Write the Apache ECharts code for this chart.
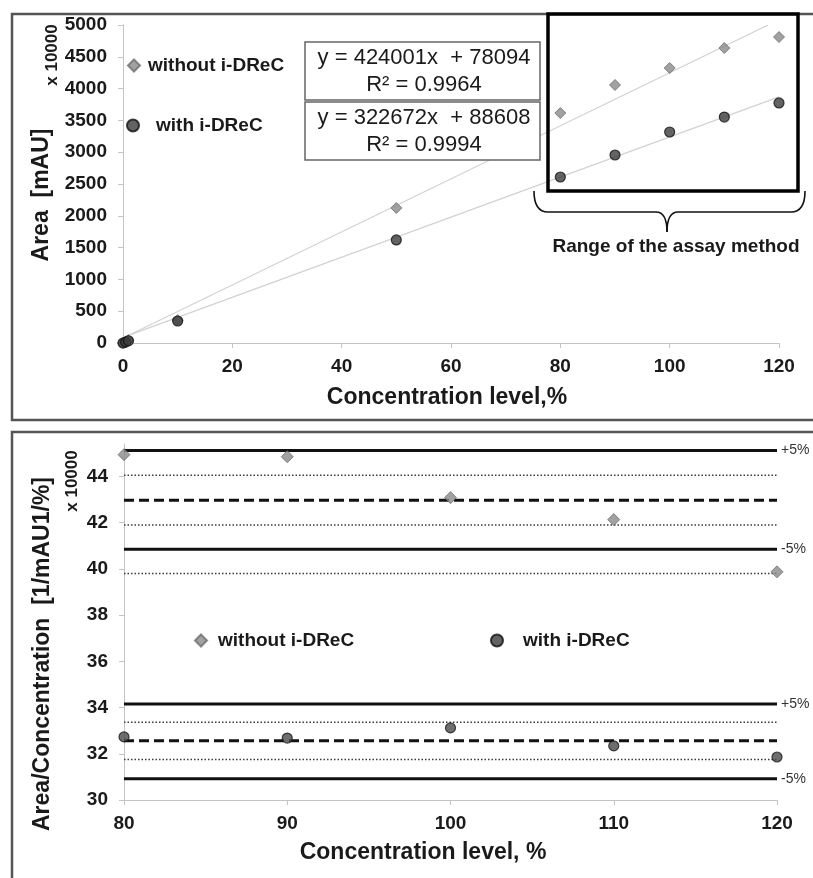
<!DOCTYPE html>
<html>
<head>
<meta charset="utf-8">
<script src="https://cdn.jsdelivr.net/npm/echarts@6/dist/echarts.min.js"></script>
<style>html,body{margin:0;padding:0;background:#fff}#box{width:813px;height:878px}</style>
</head>
<body>
<div id="box"></div>
<script>
const FONT = '"Liberation Sans", Arial, sans-serif';

// top chart: area (x10000 mAU) vs concentration level (%)
const concTop = [0, 0.5, 1, 10, 50, 80, 90, 100, 110, 120];
const areaWithout = [0, 20, 45, 360, 2123, 3616, 4057, 4324, 4638, 4811];
const areaWith = [0, 15, 35, 346, 1620, 2610, 2956, 3318, 3553, 3774];
const trendWithout = [[0, 78], [118, 5000]];
const trendWith = [[0, 89], [120, 3870]];
const eqWithout = ['y = 424001x  + 78094', 'R² = 0.9964'];
const eqWith = ['y = 322672x  + 88608', 'R² = 0.9994'];

// bottom chart: area/concentration (x10000) inside the assay range
const concBottom = [80, 90, 100, 110, 120];
const ratioWithout = [44.94, 44.85, 43.08, 42.13, 39.87];
const ratioWith = [32.73, 32.68, 33.12, 32.34, 31.86];
const solidLevels = [45.12, 40.85, 34.15, 30.92];
const solidLabels = ['+5%', '-5%', '+5%', '-5%'];
const dashedLevels = [42.97, 32.56];
const dottedLevels = [44.05, 41.9, 39.8, 33.36, 31.75];

const sWithout = 'without i-DReC';
const sWith = 'with i-DReC';

const diamondStyle = { color: '#898989', borderColor: '#6e6e6e', borderWidth: 1 };
const circleStyle = { color: '#3c3c3c', borderColor: '#111', borderWidth: 1.2 };

function pairs(xs, ys){
    return xs.map((x, i) => [x, ys[i]]);
}

function levelLine(v, type, idx){
    const o = {
        type: 'line', xAxisIndex: 1, yAxisIndex: 1,
        data: [[80, v], [120, v]],
        symbol: 'none', silent: true, z: 1,
        lineStyle: { color: '#111', width: 3, type: 'solid' },
    };
    if (type === 'dashed') o.lineStyle = { color: '#111', width: 3, type: [10, 5] };
    if (type === 'dotted') o.lineStyle = { color: '#3a3a3a', width: 1.5, type: [1.5, 2] };
    if (type === 'solid') {
        o.endLabel = {
            show: true, formatter: solidLabels[idx], distance: 4,
            fontFamily: FONT, fontSize: 14, color: '#333',
        };
    }
    return o;
}

// curly brace under the assay range box
const braceStroke = { stroke: '#111', lineWidth: 1.6, fill: 'none' };
function curve(x1, y1, cx, cy, x2, y2){
    return { type: 'bezierCurve', z: 10, shape: { x1, y1, x2, y2, cpx1: cx, cpy1: cy }, style: braceStroke };
}
function seg(x1, y1, x2, y2){
    return { type: 'line', z: 10, shape: { x1, y1, x2, y2 }, style: braceStroke };
}

// one-item legend
const legendText = { fontFamily: FONT, fontSize: 19, fontWeight: 'bold', color: '#1a1a1a' };
function legendItem(name, icon, left, top, pad){
    return {
        data: [{ name, icon }], left, top,
        itemWidth: 12, itemHeight: 12, selectedMode: false,
        textStyle: { ...legendText, padding: [0, 0, 0, pad] },
    };
}

const axisLabelStyle = { fontFamily: FONT, fontSize: 19, fontWeight: 'bold', color: '#1a1a1a', formatter: v => String(v) };
const axisLineStyle = { show: true, lineStyle: { color: '#c4c4c4', width: 1 } };
const axisTickStyle = { show: true, length: 5, lineStyle: { color: '#c4c4c4' } };

const myChart = echarts.init(document.getElementById('box'));
const option = {
    animation: false,
    backgroundColor: '#fff',
    grid: [
        { left: 123, right: 34, top: 25, bottom: 535 },
        { left: 124, right: 36, top: 444, bottom: 78 },
    ],
    xAxis: [
        {
            gridIndex: 0, type: 'value', min: 0, max: 120, interval: 20,
            axisLine: axisLineStyle, axisTick: axisTickStyle, splitLine: { show: false },
            axisLabel: { ...axisLabelStyle, margin: 14 },
        },
        {
            gridIndex: 1, type: 'value', min: 80, max: 120, interval: 10,
            axisLine: axisLineStyle, axisTick: axisTickStyle, splitLine: { show: false },
            axisLabel: { ...axisLabelStyle, margin: 14 },
        },
    ],
    yAxis: [
        {
            gridIndex: 0, type: 'value', min: 0, max: 5000, interval: 500,
            axisLine: axisLineStyle, axisTick: axisTickStyle, splitLine: { show: false },
            axisLabel: { ...axisLabelStyle, margin: 16 },
        },
        {
            gridIndex: 1, type: 'value', min: 30, max: 45.4, interval: 2,
            axisLine: axisLineStyle, axisTick: axisTickStyle, splitLine: { show: false },
            axisLabel: { ...axisLabelStyle, margin: 16, showMaxLabel: false },
        },
    ],
    legend: [
        legendItem(sWithout, 'diamond', 122, 51, 3),
        legendItem(sWith, 'circle', 121, 111, 12),
        legendItem(sWithout, 'diamond', 189, 626, 6),
        legendItem(sWith, 'circle', 485, 626, 15),
    ],
    series: [
        {
            type: 'line', xAxisIndex: 0, yAxisIndex: 0, data: trendWithout,
            symbol: 'none', silent: true, lineStyle: { color: '#d2d2d2', width: 1.2 }, z: 1,
        },
        {
            type: 'line', xAxisIndex: 0, yAxisIndex: 0, data: trendWith,
            symbol: 'none', silent: true, lineStyle: { color: '#d2d2d2', width: 1.2 }, z: 1,
        },
        {
            name: sWithout, type: 'scatter', xAxisIndex: 0, yAxisIndex: 0,
            data: pairs(concTop, areaWithout), symbol: 'diamond', symbolSize: 11,
            itemStyle: diamondStyle, z: 3,
        },
        {
            name: sWith, type: 'scatter', xAxisIndex: 0, yAxisIndex: 0,
            data: pairs(concTop, areaWith), symbol: 'circle', symbolSize: 10,
            itemStyle: circleStyle, z: 4,
        },
        ...solidLevels.map((v, i) => levelLine(v, 'solid', i)),
        ...dashedLevels.map((v, i) => levelLine(v, 'dashed', i)),
        ...dottedLevels.map((v, i) => levelLine(v, 'dotted', i)),
        {
            name: sWithout, type: 'scatter', xAxisIndex: 1, yAxisIndex: 1,
            data: pairs(concBottom, ratioWithout), symbol: 'diamond', symbolSize: 12,
            itemStyle: diamondStyle, z: 5,
        },
        {
            name: sWith, type: 'scatter', xAxisIndex: 1, yAxisIndex: 1,
            data: pairs(concBottom, ratioWith), symbol: 'circle', symbolSize: 10,
            itemStyle: { color: '#4a4a4a', borderColor: '#1a1a1a', borderWidth: 1.2 }, z: 5,
        },
    ],
    graphic: [
        // panel frames
        { type: 'rect', shape: { x: 12, y: 14, width: 830, height: 406 }, style: { fill: 'none', stroke: '#555', lineWidth: 2.5 }, z: 0 },
        { type: 'rect', shape: { x: 12, y: 432, width: 830, height: 470 }, style: { fill: 'none', stroke: '#555', lineWidth: 2.5 }, z: 0 },
        // equation boxes
        { type: 'rect', shape: { x: 305, y: 42, width: 235, height: 58 }, style: { fill: '#fff', stroke: '#666', lineWidth: 1.5 }, z: 10 },
        { type: 'rect', shape: { x: 305, y: 102, width: 235, height: 58 }, style: { fill: '#fff', stroke: '#666', lineWidth: 1.5 }, z: 10 },
        { type: 'text', x: 424, y: 58, z: 11, style: { text: eqWithout[0], font: `22px ${FONT}`, fill: '#1a1a1a', textAlign: 'center', textVerticalAlign: 'middle' } },
        { type: 'text', x: 424, y: 85, z: 11, style: { text: eqWithout[1], font: `22px ${FONT}`, fill: '#1a1a1a', textAlign: 'center', textVerticalAlign: 'middle' } },
        { type: 'text', x: 424, y: 118, z: 11, style: { text: eqWith[0], font: `22px ${FONT}`, fill: '#1a1a1a', textAlign: 'center', textVerticalAlign: 'middle' } },
        { type: 'text', x: 424, y: 145, z: 11, style: { text: eqWith[1], font: `22px ${FONT}`, fill: '#1a1a1a', textAlign: 'center', textVerticalAlign: 'middle' } },
        // assay range box and brace
        { type: 'rect', shape: { x: 548, y: 14, width: 250, height: 177 }, style: { fill: 'none', stroke: '#000', lineWidth: 3.5 }, z: 10 },
        curve(534, 191, 534, 212, 548, 212),
        seg(548, 212, 656, 212),
        curve(656, 212, 667, 212, 667, 232),
        curve(667, 232, 667, 212, 678, 212),
        seg(678, 212, 791, 212),
        curve(791, 212, 805, 212, 805, 191),
        { type: 'text', x: 676, y: 247, z: 10, style: { text: 'Range of the assay method', font: `bold 19px ${FONT}`, fill: '#1a1a1a', textAlign: 'center', textVerticalAlign: 'middle' } },
        // axis titles
        { type: 'text', x: 447, y: 398, style: { text: 'Concentration level,%', font: `bold 23px ${FONT}`, fill: '#1a1a1a', textAlign: 'center', textVerticalAlign: 'middle' } },
        { type: 'text', x: 42, y: 195, rotation: Math.PI / 2, style: { text: 'Area  [mAU]', font: `bold 23px ${FONT}`, fill: '#1a1a1a', textAlign: 'center', textVerticalAlign: 'middle' } },
        { type: 'text', x: 52, y: 55, rotation: Math.PI / 2, style: { text: 'x 10000', font: `bold 17px ${FONT}`, fill: '#1a1a1a', textAlign: 'center', textVerticalAlign: 'middle' } },
        { type: 'text', x: 423, y: 853, style: { text: 'Concentration level, %', font: `bold 23px ${FONT}`, fill: '#1a1a1a', textAlign: 'center', textVerticalAlign: 'middle' } },
        { type: 'text', x: 43, y: 654, rotation: Math.PI / 2, style: { text: 'Area/Concentration  [1/mAU1/%]', font: `bold 23px ${FONT}`, fill: '#1a1a1a', textAlign: 'center', textVerticalAlign: 'middle' } },
        { type: 'text', x: 72, y: 481, rotation: Math.PI / 2, style: { text: 'x 10000', font: `bold 17px ${FONT}`, fill: '#1a1a1a', textAlign: 'center', textVerticalAlign: 'middle' } },
    ],
};
myChart.setOption(option);
</script>
</body>
</html>
